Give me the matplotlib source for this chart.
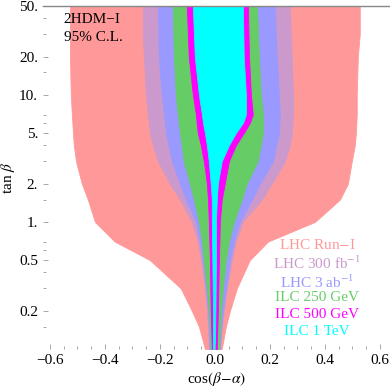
import numpy as np
import matplotlib
matplotlib.use("Agg")
import matplotlib.pyplot as plt
from matplotlib.ticker import FixedLocator, NullFormatter

plt.rcParams['font.family'] = ['Liberation Serif', 'DejaVu Serif']
plt.rcParams['mathtext.fontset'] = 'stix'

# allowed regions in the (cos(beta-alpha), tan beta) plane
# each band: tan beta values, left edge and right edge in cos(beta-alpha)
run1_tb = [50, 30, 20, 10, 7, 5, 4, 3, 2, 1.5, 1, 0.7, 0.5, 0.3, 0.2, 0.15, 0.1]
run1_lo = [-0.527, -0.527, -0.527, -0.524, -0.520, -0.516, -0.513, -0.505, -0.484, -0.462,
           -0.436, -0.364, -0.236, -0.124, -0.084, -0.058, -0.036]
run1_hi = [0.527, 0.527, 0.520, 0.516, 0.516, 0.513, 0.509, 0.498, 0.484, 0.455,
           0.364, 0.193, 0.127, 0.080, 0.055, 0.040, 0.025]

lhc300_tb = [50, 30, 20, 10, 7, 5, 4, 3, 2, 1.5, 1, 0.7, 0.5, 0.3, 0.2, 0.15, 0.1]
lhc300_lo = [-0.262, -0.262, -0.258, -0.251, -0.244, -0.236, -0.225, -0.207, -0.164, -0.127,
             -0.084, -0.062, -0.051, -0.036, -0.029, -0.025, -0.022]
lhc300_hi = [0.273, 0.276, 0.280, 0.284, 0.284, 0.280, 0.273, 0.255, 0.207, 0.171,
             0.102, 0.076, 0.062, 0.044, 0.033, 0.025, 0.018]

lhc3000_tb = [50, 20, 10, 7, 5, 3, 2, 1.5, 1, 0.7, 0.5, 0.3, 0.2, 0.1]
lhc3000_lo = [-0.207, -0.204, -0.193, -0.185, -0.178, -0.156, -0.127, -0.105, -0.069,
              -0.055, -0.044, -0.033, -0.025, -0.018]
lhc3000_hi = [0.218, 0.225, 0.233, 0.236, 0.233, 0.211, 0.164, 0.135, 0.091, 0.069,
              0.055, 0.040, 0.029, 0.018]

ilc250_tb = [50, 20, 10, 7, 5, 3, 2, 1.5, 1, 0.7, 0.5, 0.3, 0.2, 0.1]
ilc250_lo = [-0.153, -0.149, -0.142, -0.135, -0.127, -0.113, -0.091, -0.076, -0.058,
             -0.047, -0.040, -0.029, -0.022, -0.015]
ilc250_hi = [0.153, 0.160, 0.167, 0.175, 0.175, 0.156, 0.116, 0.098, 0.069, 0.051,
             0.040, 0.029, 0.022, 0.015]

ilc500_tb = [50, 20, 10, 7, 6, 5, 4, 3, 2, 1.5, 1, 0.5, 0.2, 0.1]
ilc500_lo = [-0.102, -0.095, -0.080, -0.069, -0.066, -0.062, -0.051, -0.040, -0.029,
             -0.025, -0.022, -0.018, -0.015, -0.011]
ilc500_hi = [0.120, 0.124, 0.131, 0.138, 0.127, 0.105, 0.076, 0.051, 0.036, 0.025,
             0.018, 0.015, 0.011, 0.007]

ilc1000_tb = [50, 20, 10, 7, 6, 5, 4, 3, 2, 1.5, 1, 0.5, 0.2, 0.1]
ilc1000_lo = [-0.080, -0.073, -0.058, -0.047, -0.043, -0.036, -0.029, -0.022, -0.015,
              -0.011, -0.011, -0.009, -0.007, -0.007]
ilc1000_hi = [0.102, 0.105, 0.113, 0.113, 0.102, 0.076, 0.051, 0.025, 0.011, 0.007,
              0.004, 0.004, 0.002, 0.000]

bands = [
    (run1_tb, run1_lo, run1_hi, '#FF9999', 'LHC Run$-$I'),
    (lhc300_tb, lhc300_lo, lhc300_hi, '#CC99CC', 'LHC 300 fb$^{-1}$'),
    (lhc3000_tb, lhc3000_lo, lhc3000_hi, '#9999FF', 'LHC 3 ab$^{-1}$'),
    (ilc250_tb, ilc250_lo, ilc250_hi, '#66CC66', 'ILC 250 GeV'),
    (ilc500_tb, ilc500_lo, ilc500_hi, '#FF00FF', 'ILC 500 GeV'),
    (ilc1000_tb, ilc1000_lo, ilc1000_hi, '#00FFFF', 'ILC 1 TeV'),
]

xticks = [-0.6, -0.4, -0.2, 0.0, 0.2, 0.4, 0.6]
xticklabels = ['\u22120.6', '\u22120.4', '\u22120.2', '0.0', '0.2', '0.4', '0.6']
yticks = [0.2, 0.5, 1, 2, 5, 10, 20, 50]
yticklabels = ['0.2', '0.5', '1.', '2.', '5.', '10.', '20.', '50.']
yminor = [0.15, 0.3, 0.4, 0.6, 0.7, 1.5, 3, 4, 6, 7, 15, 30, 40]

fig = plt.figure(figsize=(3.9, 3.88), dpi=100)
ax = fig.add_axes([43 / 390, 39 / 388, 347 / 390, 343 / 388])

for tb, lo, hi, col, name in bands:
    ax.fill_betweenx(tb, lo, hi, color=col, lw=0.6, edgecolor=col)

ax.set_yscale('log')
ax.set_xlim(-0.625, 0.637)
ax.set_ylim(0.1, 50)

ax.set_xticks(xticks)
ax.set_xticklabels(xticklabels)
ax.xaxis.set_minor_locator(FixedLocator(np.arange(-0.6, 0.61, 0.05)))
ax.set_yticks(yticks)
ax.set_yticklabels(yticklabels)
ax.yaxis.set_minor_locator(FixedLocator(yminor))
ax.yaxis.set_minor_formatter(NullFormatter())
ax.tick_params(which='both', direction='in', colors='#999999', labelcolor='black',
               labelsize=11, width=0.6)
ax.tick_params(which='major', length=3.5)
ax.tick_params(which='minor', length=2)

for s in ['left', 'bottom', 'right']:
    ax.spines[s].set_visible(False)
ax.spines['top'].set_color('#888888')
ax.spines['top'].set_linewidth(1.0)

ax.set_xlabel(r'cos$(\beta\!-\!\alpha)$', fontsize=11, labelpad=2)
ax.set_ylabel(r'tan $\beta$', fontsize=11)
ax.yaxis.set_label_coords(-0.074, 0.5)

ax.text(0.06, 0.96, '2HDM\u2212I', transform=ax.transAxes, fontsize=11, va='center')
ax.text(0.06, 0.907, '95% C.L.', transform=ax.transAxes, fontsize=11, va='center')

leg_y = [0.303, 0.251, 0.195, 0.149, 0.102, 0.052]
for (tb, lo, hi, col, name), yy in zip(bands, leg_y):
    ax.text(0.79, yy, name, color=col, transform=ax.transAxes, fontsize=11,
            ha='center', va='center')

fig.savefig('out.png', dpi=100)
